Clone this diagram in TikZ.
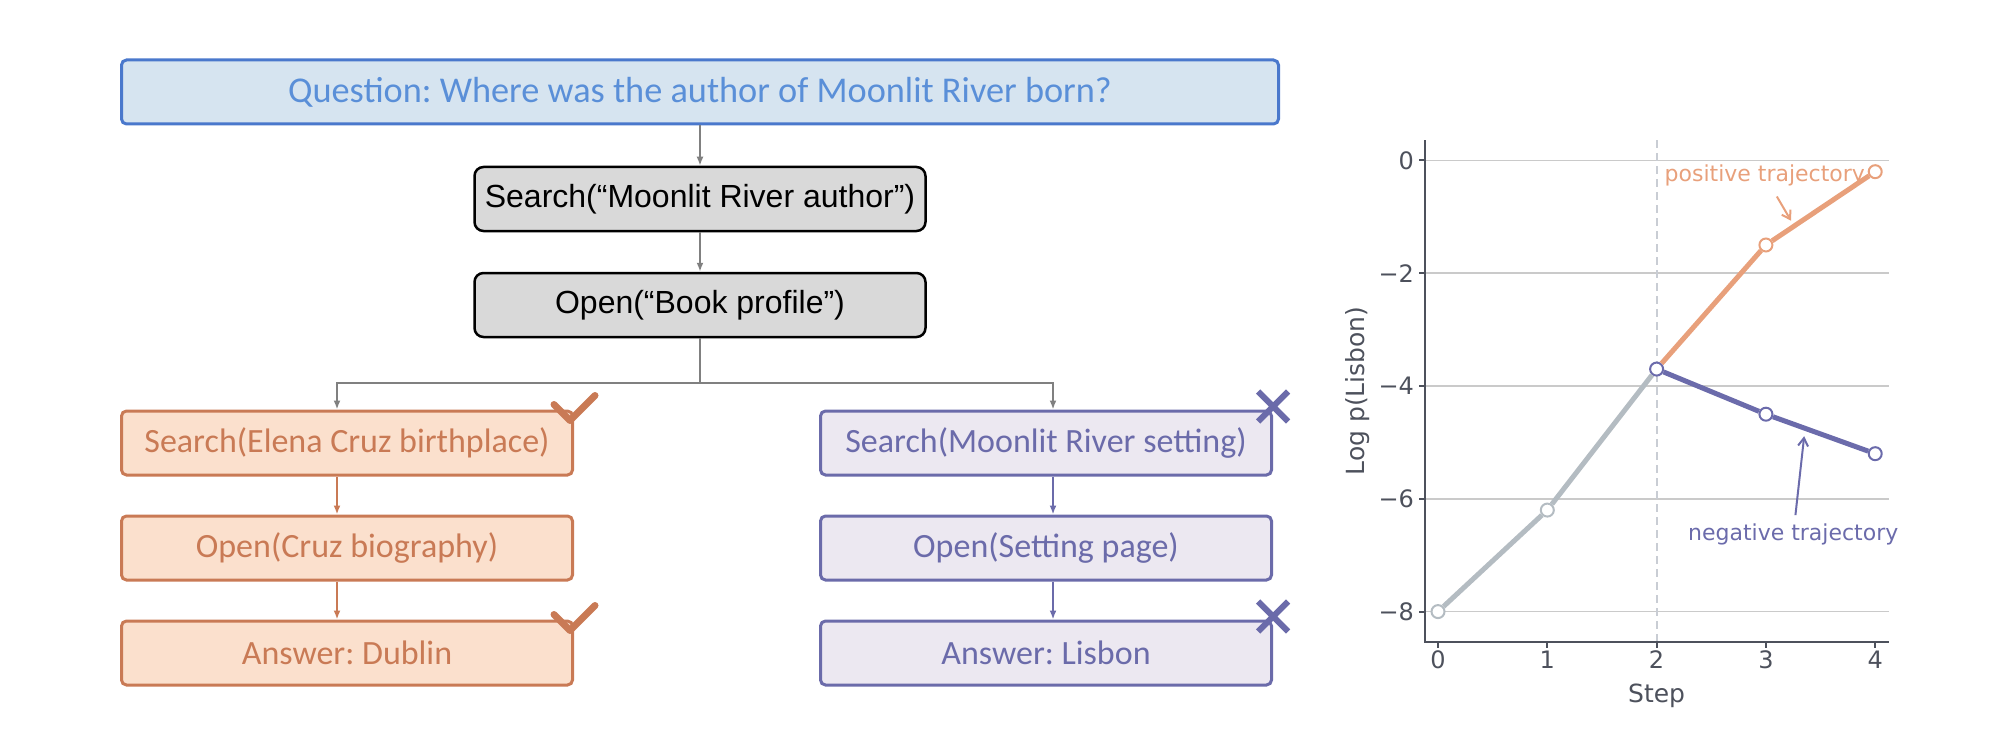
\documentclass[tikz,border=0pt]{standalone}
\usepackage{fontspec}
\setmainfont{Carlito}
\newfontfamily\arialfont{Liberation Sans}
\newfontfamily\plotfont{DejaVu Sans}
\usetikzlibrary{arrows.meta}
\frenchspacing
\definecolor{qfill}{HTML}{D6E4F0}
\definecolor{qdraw}{HTML}{4A78CC}
\definecolor{qtext}{HTML}{5A8FD8}
\definecolor{boxgray}{HTML}{D9D9D9}
\definecolor{linkgray}{HTML}{808080}
\definecolor{posfill}{HTML}{FBE0CD}
\definecolor{posdraw}{HTML}{C97A55}
\definecolor{negfill}{HTML}{ECE8F1}
\definecolor{negdraw}{HTML}{6B6BAA}
\definecolor{plotorange}{HTML}{E8A07B}
\definecolor{plotblue}{HTML}{6B6BAB}
\definecolor{plotgray}{HTML}{B4BCC2}
\definecolor{spine}{HTML}{4D515C}
\definecolor{gridgray}{HTML}{CACACA}
\definecolor{stepline}{HTML}{C9CDD4}
\newcommand{\boxfont}{\fontsize{34}{38}\selectfont}
\tikzset{questionbox/.style={rectangle, rounded corners=5pt, draw=qdraw, line width=3pt, fill=qfill, text=qtext, minimum width=1157pt, minimum height=64pt, font=\fontsize{36.3}{40}\selectfont},
  actionbox/.style={rectangle, rounded corners=9pt, draw=black, line width=2.5pt, fill=boxgray, minimum width=451pt, minimum height=64pt, font=\arialfont\fontsize{32}{36}\selectfont},
  posbox/.style={rectangle, rounded corners=5pt, draw=posdraw, line width=3pt, fill=posfill, text=posdraw, minimum width=451pt, minimum height=64pt, font=\boxfont},
  negbox/.style={rectangle, rounded corners=5pt, draw=negdraw, line width=3pt, fill=negfill, text=negdraw, minimum width=451pt, minimum height=64pt, font=\boxfont},
  link/.style={line width=2pt, -{Latex[length=9pt,width=7pt]}},
  trajpt/.style={circle, draw, fill=white, line width=2pt, inner sep=0pt, minimum size=13pt},
  trajline/.style={line width=5pt}}

\begin{document}
\begin{tikzpicture}[x=1pt,y=-1pt]
\useasboundingbox (0,0) rectangle (2015,730);

\node[questionbox] (question) at (700,92) {Question: Where was the author of Moonlit River born?};
\node[actionbox] (search) at (700,199) {Search(“Moonlit River author”)};
\node[actionbox] (open) at (700,305) {Open(“Book profile”)};

\node[posbox] (l1) at (347,443) {Search(Elena Cruz birthplace)};
\node[posbox] (l2) at (347,548) {Open(Cruz biography)};
\node[posbox] (l3) at (347,653) {Answer: Dublin};
\node[negbox] (r1) at (1046,443) {Search(Moonlit River setting)};
\node[negbox] (r2) at (1046,548) {Open(Setting page)};
\node[negbox] (r3) at (1046,653) {Answer: Lisbon};

\draw[link, linkgray] (question) -- (search);
\draw[link, linkgray] (search) -- (open);
\draw[line width=2.5pt, linkgray] (open.south) -- (700,383);
\draw[link, linkgray] (700,383) -| (l1.north -| 337,0);
\draw[link, linkgray] (700,383) -| (r1.north -| 1053,0);
\draw[link, posdraw] (l1.south -| 337,0) -- (l2.north -| 337,0);
\draw[link, posdraw] (l2.south -| 337,0) -- (l3.north -| 337,0);
\draw[link, negdraw] (r1.south -| 1053,0) -- (r2.north -| 1053,0);
\draw[link, negdraw] (r2.south -| 1053,0) -- (r3.north -| 1053,0);

% marks
\draw[posdraw, line width=7pt, line cap=round, line join=round] (l1.north east) ++(-20,-5) -- ++(16,16) -- ++(25,-25);
\draw[posdraw, line width=7pt, line cap=round, line join=round] (l3.north east) ++(-20,-5) -- ++(16,16) -- ++(25,-25);
\draw[negdraw, line width=6pt] (r1.north east) ++(-15,-18) -- ++(30,30) ++(0,-30) -- ++(-30,30);
\draw[negdraw, line width=6pt] (r3.north east) ++(-15,-18) -- ++(30,30) ++(0,-30) -- ++(-30,30);

% plot
\node[text=spine, font=\plotfont\fontsize{25}{28}\selectfont, rotate=90] (ylabel) at (1358,391) {Log p(Lisbon)};
\begin{scope}[shift={(1438,160.4)}, x=109.3pt, y=56.4pt, font=\plotfont\fontsize{24}{28}\selectfont]
\foreach \v in {0,-2,...,-8} \draw[gridgray, line width=1.5pt] (-0.12,\v) -- (4.13,\v);
\draw[stepline, line width=2pt, dash pattern=on 8pt off 5pt] (2,0.36) -- (2,-8.54);
\draw[spine, line width=2.5pt] (-0.12,0.36) -- (-0.12,-8.54) -- (4.13,-8.54);
\foreach \x in {0,...,4} \draw[spine, line width=2pt] (\x,-8.54) -- ++(0,-0.1) node[below, text=spine, inner sep=2pt] {\x};
\foreach \v/\t in {0/0,-2/−2,-4/−4,-6/−6,-8/−8} \draw[spine, line width=2pt] (-0.12,\v) -- ++(-0.055,0) node[left, text=spine, inner sep=4pt] {\t};
\node[text=spine, font=\plotfont\fontsize{25}{28}\selectfont] (xlabel) at (2,-9.5) {Step};

\node[trajpt, draw=plotgray] (p0) at (0,-8) {};
\node[trajpt, draw=plotgray] (p1) at (1,-6.2) {};
\node[trajpt, draw=plotblue] (p2) at (2,-3.7) {};
\node[trajpt, draw=plotorange] (pos3) at (3,-1.5) {};
\node[trajpt, draw=plotorange] (pos4) at (4,-0.2) {};
\node[trajpt, draw=plotblue] (neg3) at (3,-4.5) {};
\node[trajpt, draw=plotblue] (neg4) at (4,-5.2) {};
\draw[trajline, plotgray] (p0) -- (p1) -- (p2);
\draw[trajline, plotorange] (p2) -- (pos3) -- (pos4);
\draw[trajline, plotblue] (p2) -- (neg3) -- (neg4);

\node[text=plotorange, font=\plotfont\fontsize{22}{26}\selectfont] (postext) at (2.99,-0.27) {positive trajectory};
\node[text=plotblue, font=\plotfont\fontsize{22}{26}\selectfont] (negtext) at (3.25,-6.63) {negative trajectory};
\coordinate (posfrom) at (3.10,-0.64);
\coordinate (posto) at (3.23,-1.07);
\coordinate (negfrom) at (3.27,-6.29);
\coordinate (negto) at (3.35,-4.89);
\draw[plotorange, line width=2pt, -{Straight Barb[length=8pt,width=10pt]}] (posfrom) -- (posto);
\draw[plotblue, line width=2pt, -{Straight Barb[length=8pt,width=10pt]}] (negfrom) -- (negto);
\end{scope}
\end{tikzpicture}
\end{document}
